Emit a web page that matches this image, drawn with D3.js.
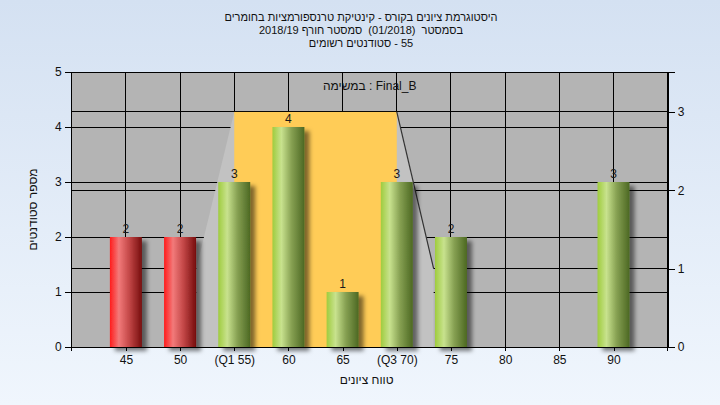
<!DOCTYPE html>
<html><head><meta charset="utf-8">
<script src="https://cdn.jsdelivr.net/npm/d3@7"></script>
<style>html,body{margin:0;padding:0;}svg{display:block;}</style>
</head><body>
<script>
// ---- data ----
const categories = [45, 50, 55, 60, 65, 70, 75, 80, 85, 90];
const tickLabels = ["45", "50", "(Q1 55)", "60", "65", "(Q3 70)", "75", "80", "85", "90"];
const counts = [2, 2, 3, 4, 1, 3, 2, 0, 0, 3];
const passGrade = 55;
const leftTicks = [0, 1, 2, 3, 4, 5];
const rightTicks = [0, 1, 2, 3];
const quartileRange = [55, 70];
const quartileLevel = 3;
const spreadX = [51.5, 55, 70, 73.4];
const spreadY = [1, 3, 3, 1];
const titleLines = ["היסטוגרמת ציונים בקורס - קינטיקת טרנספורמציות בחומרים",
                    "בסמסטר  (01/2018)  סמסטר חורף 2018/19",
                    "סטודנטים רשומים\u200E - 55"];
const subtitle = "במשימה : Final_B";
const xTitle = "טווח ציונים";
const yTitle = "מספר סטודנטים";

// ---- layout ----
const W = 720, H = 405;
const L = 71.7, R = 667.7, T = 72, B = 347;
const font = "'Liberation Sans', 'DejaVu Sans', Arial, sans-serif";

const svg = d3.select("body").append("svg").attr("width", W).attr("height", H)
  .style("font-family", font);
const defs = svg.append("defs");

const bg = defs.append("linearGradient").attr("id", "bg").attr("x1", 0).attr("y1", 0).attr("x2", 0).attr("y2", 1);
bg.append("stop").attr("offset", "0%").attr("stop-color", "#d4e1f2");
bg.append("stop").attr("offset", "100%").attr("stop-color", "#f0f6fd");

function barGrad(id, stops) {
  const g = defs.append("linearGradient").attr("id", id).attr("x1", 0).attr("y1", 0).attr("x2", 1).attr("y2", 0);
  stops.forEach(s => g.append("stop").attr("offset", s[0]).attr("stop-color", s[1]));
}
barGrad("red", [["0%", "#ff1c1c"], ["28%", "#f27a7a"], ["60%", "#c44848"], ["100%", "#760c0c"]]);
barGrad("green", [["0%", "#9fcc3e"], ["28%", "#c8e28e"], ["60%", "#86a052"], ["100%", "#4c6822"]]);

const sh = defs.append("filter").attr("id", "shadow").attr("x", "-20%").attr("y", "-10%").attr("width", "160%").attr("height", "130%");
sh.append("feDropShadow").attr("dx", 5).attr("dy", 4).attr("stdDeviation", 2)
  .attr("flood-color", "#000").attr("flood-opacity", 0.5);

svg.append("rect").attr("width", W).attr("height", H).attr("fill", "url(#bg)");

const x = d3.scaleLinear().domain([40, 95]).range([L, R]);
const yL = d3.scaleLinear().domain([0, 5]).range([B, T]);
const yR = d3.scaleLinear().domain([0, 3.51]).range([B, T]);
const step = x(50) - x(45);
const bw = step * 0.59;

// plot background
svg.append("rect").attr("x", L).attr("y", T).attr("width", R - L).attr("height", B - T).attr("fill", "#b4b4b4");

// gridlines
const grid = svg.append("g").attr("stroke", "#000").attr("stroke-width", 1).attr("shape-rendering", "crispEdges");
leftTicks.forEach(v => grid.append("line").attr("x1", L).attr("x2", R).attr("y1", yL(v)).attr("y2", yL(v)));
rightTicks.forEach(v => grid.append("line").attr("x1", L).attr("x2", R).attr("y1", yR(v)).attr("y2", yR(v)));
categories.forEach(c => grid.append("line").attr("x1", x(c)).attr("x2", x(c)).attr("y1", T).attr("y2", B));

// spread polygon + quartile band
const poly = [[spreadX[0], 0]].concat(spreadX.map((v, i) => [v, spreadY[i]])).concat([[spreadX[3], 0]]);
svg.append("path").attr("d", d3.line().x(d => x(d[0])).y(d => yR(d[1]))(poly) + "Z").attr("fill", "#c2c2c2");
svg.append("rect").attr("x", x(quartileRange[0])).attr("y", yR(quartileLevel))
  .attr("width", x(quartileRange[1]) - x(quartileRange[0])).attr("height", B - yR(quartileLevel))
  .attr("fill", "#ffcc57");
svg.append("line").attr("x1", x(spreadX[2])).attr("y1", yR(spreadY[2])).attr("x2", x(spreadX[3])).attr("y2", yR(spreadY[3]))
  .attr("stroke", "#333").attr("stroke-width", 1.2);

// bars
const data = categories.map((c, i) => ({c, v: counts[i], label: tickLabels[i]}));
svg.append("g").selectAll("rect").data(data.filter(d => d.v > 0)).join("rect")
  .attr("x", d => x(d.c) - bw / 2).attr("y", d => yL(d.v))
  .attr("width", bw).attr("height", d => B - yL(d.v))
  .attr("fill", d => d.c < passGrade ? "url(#red)" : "url(#green)")
  .attr("filter", "url(#shadow)");

svg.append("g").selectAll("text").data(data.filter(d => d.v > 0)).join("text")
  .attr("x", d => x(d.c)).attr("y", d => yL(d.v) - 4)
  .attr("text-anchor", "middle").attr("font-size", 12).attr("fill", "#1a1a1a")
  .text(d => d.v);

// plot border / axes lines
const ax = svg.append("g").attr("stroke", "#000").attr("stroke-width", 1).attr("shape-rendering", "crispEdges");
ax.append("line").attr("x1", L).attr("x2", R).attr("y1", T).attr("y2", T);
ax.append("line").attr("x1", R).attr("x2", R).attr("y1", T).attr("y2", B + 4);

// left axis
const gl = svg.append("g").attr("transform", `translate(${L},0)`)
  .call(d3.axisLeft(yL).tickValues(leftTicks).tickFormat(d3.format("d")).tickSizeOuter(0).tickSize(7).tickPadding(3));
// right axis
const gr = svg.append("g").attr("transform", `translate(${R},0)`)
  .call(d3.axisRight(yR).tickValues(rightTicks).tickFormat(d3.format("d")).tickSizeOuter(0).tickSize(7).tickPadding(3));
// bottom axis
const gb = svg.append("g").attr("transform", `translate(0,${B})`)
  .call(d3.axisBottom(x).tickValues(categories).tickFormat((d, i) => tickLabels[i]).tickSizeOuter(0).tickSize(4).tickPadding(4));
[gl, gr, gb].forEach(g => {
  g.selectAll("text").attr("font-size", 12).attr("font-family", font).attr("fill", "#111");
  g.selectAll("line,path").attr("stroke", "#000").attr("shape-rendering", "crispEdges");
});
gl.select(".domain").attr("d", `M0,${T}V${B + 4}`);
gb.select(".domain").attr("d", `M${L},0H${R}`);

// titles
titleLines.forEach((t, i) => {
  svg.append("text").attr("x", 361).attr("y", 21 + i * 13).attr("text-anchor", "middle")
    .style("white-space", "pre").attr("font-size", 11).attr("fill", "#111")
    .text(t);
});
svg.append("text").attr("x", (L + R) / 2).attr("y", 90).attr("text-anchor", "middle")
  .attr("font-size", 12).attr("fill", "#111").text(subtitle);
svg.append("text").attr("x", (L + R) / 2 - 3).attr("y", 384).attr("text-anchor", "middle")
  .attr("font-size", 12).attr("fill", "#111").text(xTitle);
svg.append("text").attr("transform", `translate(37,${(T + B) / 2}) rotate(-90)`).attr("text-anchor", "middle")
  .attr("font-size", 12).attr("fill", "#111").text(yTitle);
</script>
</body></html>
